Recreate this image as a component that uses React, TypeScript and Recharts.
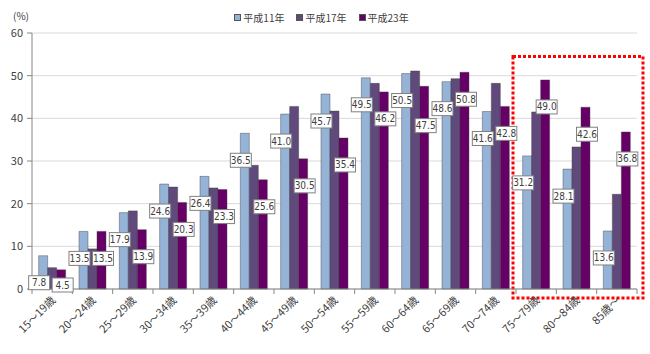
import { BarChart, Bar, XAxis, YAxis, CartesianGrid, Legend, LabelList, ReferenceArea } from 'recharts'

const ageGroups = [
  '15～19歳', '20～24歳', '25～29歳', '30～34歳', '35～39歳', '40～44歳', '45～49歳', '50～54歳',
  '55～59歳', '60～64歳', '65～69歳', '70～74歳', '75～79歳', '80～84歳', '85歳～',
]
const heisei11 = [7.8, 13.5, 17.9, 24.6, 26.4, 36.5, 41.0, 45.7, 49.5, 50.5, 48.6, 41.6, 31.2, 28.1, 13.6]
const heisei17 = [5.0, 9.4, 18.3, 23.9, 23.7, 29.0, 42.8, 41.7, 48.2, 51.1, 49.3, 48.2, 41.5, 33.3, 22.2]
const heisei23 = [4.5, 13.5, 13.9, 20.3, 23.3, 25.6, 30.5, 35.4, 46.2, 47.5, 50.8, 42.8, 49.0, 42.6, 36.8]
const seriesNames = ['平成11年', '平成17年', '平成23年']
const yTicks = [0, 10, 20, 30, 40, 50, 60]

const colors = ['#95B3D7', '#604A7B', '#660066']
const FONT = '"Noto Sans CJK JP", "Noto Sans", sans-serif'
const NUM_FONT = '"Liberation Sans Narrow", "DejaVu Sans Condensed", Roboto, sans-serif'

const data = ageGroups.map((age, i) => ({
  age,
  h11: heisei11[i],
  h17: heisei17[i],
  h23: heisei23[i],
}))

const labelY = (top: number) => Math.min(top + 27, 285)

function ValueBox({ cx, cy, value }: { cx: number; cy: number; value: number }) {
  const text = value.toFixed(1)
  const w = 21
  return (
    <g>
      <rect x={cx - w / 2} y={cy - 7} width={w} height={14} fill="#fff" stroke="#808080" strokeWidth={1} />
      <text x={cx} y={cy + 3.5} textAnchor="middle" fontSize={10} fontFamily={NUM_FONT} fill="#404040">
        {text}
      </text>
    </g>
  )
}

// labels for the 平成11年 and 平成23年 bars, drawn from the last series so they sit above every bar
function pairLabels(props: any) {
  const { x, y, width, height } = props
  let i = props.index
  if (i === undefined || i === null) i = ageGroups.indexOf(props.payload?.age)
  const v23 = heisei23[i]
  const v11 = heisei11[i]
  const base = Number(y) + Number(height)
  const perUnit = Number(height) / v23
  const bw = Number(width)
  const x23 = Number(x) + bw / 2
  const x11 = x23 - 2 * bw
  const y11 = labelY(base - v11 * perUnit)
  let y23 = labelY(Number(y))
  // keep clear of the next group's 平成11年 label
  if (i + 1 < heisei11.length) {
    const nextY = labelY(base - heisei11[i + 1] * perUnit)
    if (Math.abs(nextY - y23) < 15) y23 = nextY + 17
  }
  return (
    <g>
      <ValueBox cx={x11 - 4} cy={y11} value={v11} />
      <ValueBox cx={x23 + 1.5} cy={y23} value={v23} />
    </g>
  )
}

function AgeTick(props: any) {
  const { x, y, payload, index, visibleTicksCount } = props
  const half = payload.offset || 0
  const last = index === visibleTicksCount - 1
  return (
    <g>
      <line x1={x - half} x2={x - half} y1={y} y2={y + 5} stroke="#868686" />
      {last && <line x1={x + half} x2={x + half} y1={y} y2={y + 5} stroke="#868686" />}
      <text
        x={x + 4}
        y={y + 12}
        transform={`rotate(-45, ${x + 4}, ${y + 12})`}
        textAnchor="end"
        fontSize={11}
        fontFamily={FONT}
        fill="#404040"
      >
        {payload.value}
      </text>
    </g>
  )
}

function LegendBox() {
  return (
    <div style={{ display: 'flex', justifyContent: 'center', gap: 12, fontSize: 10, fontFamily: FONT, color: '#404040', paddingLeft: 6 }}>
      {seriesNames.map((n, i) => (
        <span key={n} style={{ display: 'flex', alignItems: 'center' }}>
          <span style={{ width: 5, height: 5, background: colors[i], border: '1px solid #555', marginRight: 2 }} />
          {n}
        </span>
      ))}
    </div>
  )
}

function RedBox(props: any) {
  const { x, y, width, height } = props
  return (
    <rect
      x={x - 3}
      y={y}
      width={width + 9}
      height={height}
      fill="none"
      stroke="#ff0000"
      strokeWidth={3}
      strokeDasharray="3 2"
    />
  )
}

export default function App() {
  return (
    <div style={{ position: 'absolute', left: 0, top: 0, width: 650, height: 354, background: '#fff' }}>
      <BarChart
        width={650}
        height={354}
        data={data}
        margin={{ top: 33, right: 13, left: 0, bottom: 5 }}
        barCategoryGap="16.5%"
        barGap={0}
      >
        <CartesianGrid vertical={false} stroke="#d9d9d9" />
        <XAxis
          dataKey="age"
          interval={0}
          height={60}
          tickSize={0}
          tickMargin={0}
          tickLine={false}
          axisLine={{ stroke: '#868686' }}
          tick={<AgeTick />}
        />
        <YAxis
          domain={[0, 60]}
          ticks={yTicks}
          width={32}
          tickSize={5}
          tickMargin={4}
          axisLine={{ stroke: '#868686' }}
          tickLine={{ stroke: '#868686' }}
          tick={{ fontSize: 11, fontFamily: FONT, fill: '#404040' }}
        />
        <Legend verticalAlign="middle" align="center" wrapperStyle={{ top: 10 }} content={<LegendBox />} />
        <Bar dataKey="h11" name={seriesNames[0]} fill={colors[0]} stroke="#3f3f3f" strokeOpacity={0.6} strokeWidth={0.7} isAnimationActive={false} />
        <Bar dataKey="h17" name={seriesNames[1]} fill={colors[1]} stroke="#3f3f3f" strokeOpacity={0.6} strokeWidth={0.7} isAnimationActive={false} />
        <Bar dataKey="h23" name={seriesNames[2]} fill={colors[2]} stroke="#3f3f3f" strokeOpacity={0.6} strokeWidth={0.7} isAnimationActive={false}>
          <LabelList dataKey="h23" content={pairLabels} />
        </Bar>
        <ReferenceArea
          x1="75～79歳"
          x2="85歳～"
          y1={-2.1}
          y2={54.5}
          ifOverflow="visible"
          shape={<RedBox />}
        />
      </BarChart>
      <div style={{ position: 'absolute', left: 13, top: 9, fontSize: 10, lineHeight: '14px', fontFamily: FONT, color: '#404040' }}>(%)</div>
    </div>
  )
}
